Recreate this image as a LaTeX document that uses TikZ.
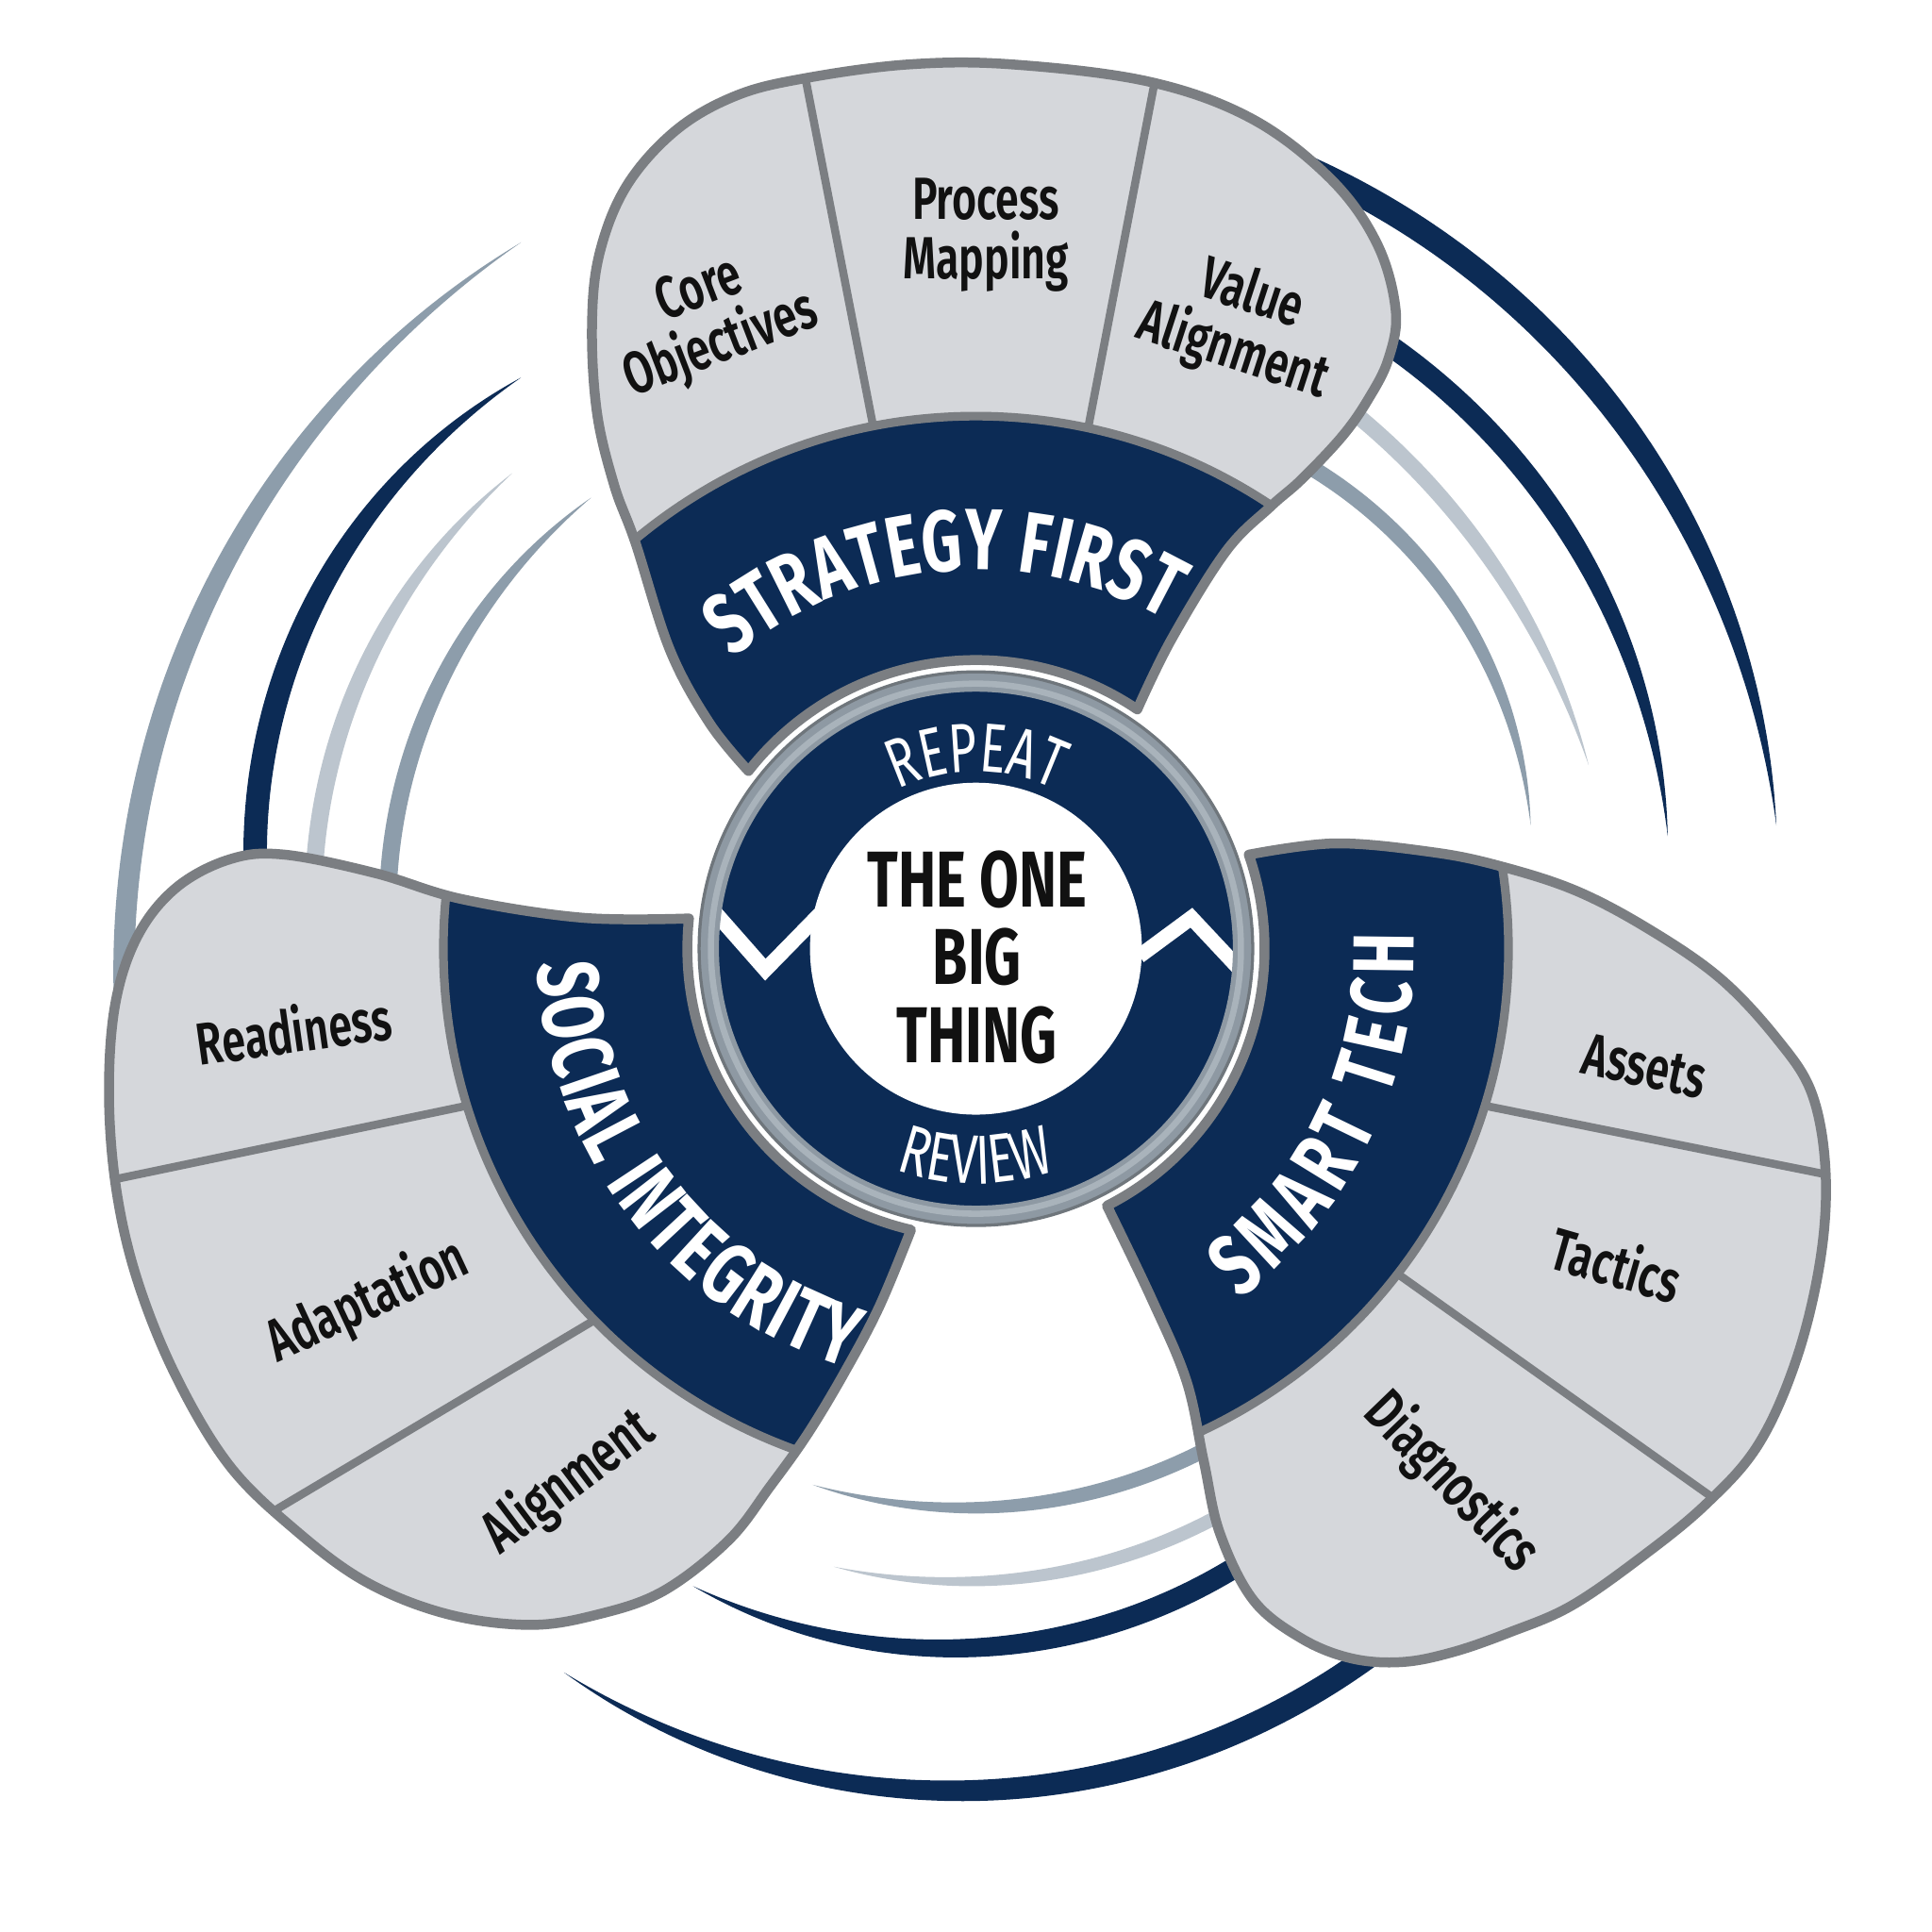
\documentclass[tikz,border=0pt]{standalone}
\usepackage{fontspec}
\usetikzlibrary{decorations.text}
\newfontfamily\cond{Fira Sans}[FakeStretch=0.72]
\IfFontExistsTF{Fira Sans SemiBold}{\newfontfamily\condmed{Fira Sans SemiBold}[FakeStretch=0.71]}{\IfFontExistsTF{Fira Sans Medium}{\newfontfamily\condmed{Fira Sans Medium}[FakeStretch=0.72]}{\newfontfamily\condmed{Fira Sans}[FakeStretch=0.72]}}
\newfontfamily\condring{Fira Sans}[FakeStretch=0.70]
\definecolor{navy}{HTML}{0C2B55}
\definecolor{cellgray}{HTML}{D5D7DB}
\definecolor{edgegray}{HTML}{7B7E82}
\definecolor{swmid}{HTML}{8D9DAB}
\definecolor{swlight}{HTML}{BCC5CE}
\definecolor{ringgray}{HTML}{8E99A3}
\definecolor{ringlight}{HTML}{A9B3BB}
\definecolor{ringdark}{HTML}{6F767C}
\definecolor{textblack}{HTML}{111111}
\newcommand\bandfont{\cond\bfseries\fontsize{70}{76}\selectfont}
\newcommand\ringfont{\condring\fontsize{56}{60}\selectfont}
% swoosh: colour, cx, cy, r, tip angle, hidden end angle, max width
\newcommand\swoosh[7]{%
  \begin{scope}[declare function={sp(\u)=sin(90*(\u-(#5))/((#6)-(#5)));}]
  \fill[#1] plot[domain=#5:#6, samples=100, variable=\t]
      ({#2+(#4+0.5*#7*sp(\t)*(2-sp(\t)))*cos(\t)}, {#3-(#4+0.5*#7*sp(\t)*(2-sp(\t)))*sin(\t)})
    -- plot[domain=#6:#5, samples=100, variable=\t]
      ({#2+(#4-0.5*#7*sp(\t)*(2-sp(\t)))*cos(\t)}, {#3-(#4-0.5*#7*sp(\t)*(2-sp(\t)))*sin(\t)})
    -- cycle;
  \end{scope}}
\newcommand\lobeT{plot[smooth, tension=0.6] coordinates {(604.4,622.6) (573,584) (541,525) (513,438) (496,392) (482,333) (478,263) (484,205) (506,150) (546,105) (595,77) (651,63) (734,52) (817,52) (928,66) (1011,96) (1075,145) (1112,197) (1127,251) (1121,290) (1105,322) (1084,352) (1051,387) (1026,409) (990,445) (946,516) (918.3,572.8)} arc[start angle=-56, end angle=-142, radius=233] -- cycle}
\newcommand\lobeS{plot[smooth, tension=0.6] coordinates {(556.3,741.6) (470,741) (373,726) (303,705) (229,690) (185,694) (142,717) (111,756) (93,811) (88,884) (94,961) (111,1034) (142,1111) (185,1183) (238,1235) (295,1277) (360,1303) (427,1312) (481,1304) (535,1285) (588,1244) (622,1200) (652,1158) (682,1108) (710,1055) (735.6,993.0)} arc[start angle=-257, end angle=-174, radius=233] -- cycle}
\newcommand\lobeM{plot[smooth, tension=0.6] coordinates {(1008.3,690.1) (1078,681) (1156,688) (1210,699) (1272,719) (1331,750) (1389,790) (1435,839) (1463,883) (1474,945) (1470,1016) (1451,1096) (1420,1166) (1377,1215) (1323,1259) (1268,1297) (1219,1318) (1173,1334) (1132,1342) (1091,1339) (1051,1323) (1012,1292) (985,1238) (972,1180) (958,1115) (930,1049) (893.8,973.6)} arc[start angle=63, end angle=-19, radius=233] -- cycle}
\tikzset{
  outline/.style={draw=edgegray, line width=8pt, line join=round},
  divider/.style={draw=edgegray, line width=6.5pt},
  bandedge/.style={draw=edgegray, line width=7pt},
  lbl/.style={font=\condmed\fontsize{48}{48}\selectfont, text=textblack, align=center, inner sep=0pt},
  bandtext/.style={decorate, decoration={text along path, text align={fit to path}, text color=white, text={|\bandfont|#1}}},
  ringtext/.style={decorate, decoration={text along path, text align=center, text color=white, text={|\ringfont|#1}}}
}
\begin{document}
\begin{tikzpicture}[x=1pt, y=-1pt]
\useasboundingbox (0,0) rectangle (1560,1560);
\fill[white] (0,0) rectangle (1560,1560);
\coordinate (C) at (788,766);

% swooshes (behind the lobes)
\swoosh{navy}{791}{725}{646}{5.2}{70}{20}
\swoosh{navy}{818}{713}{530}{4.1}{62}{17}
\swoosh{swlight}{725}{784}{582}{16.6}{57}{13}
\swoosh{swmid}{867}{694}{370}{4.3}{66}{13}
\swoosh{swmid}{800}{784}{700}{122.8}{188}{17}
\swoosh{navy}{657}{689}{451}{121.6}{190}{19}
\swoosh{swlight}{708}{729}{455}{130.3}{184}{14}
\swoosh{swmid}{733}{735}{420}{127.5}{185}{14}
\swoosh{swmid}{780}{796}{421.5}{252.9}{305}{12}
\swoosh{swlight}{775}{838}{439}{256.6}{305}{11}
\swoosh{navy}{765}{886}{445}{242.5}{308}{17}
\swoosh{navy}{771}{877}{569}{236.3}{312}{19}

% top lobe: Strategy First
\fill[cellgray] \lobeT;
\begin{scope}
  \clip \lobeT;
  \draw[divider] (647,46) -- (712,380);
  \draw[divider] (936,47) -- (872,380);
  \fill[navy] (C) circle[radius=430];
  \draw[bandedge] (C) circle[radius=430];
\end{scope}
\draw[outline] \lobeT;

% left lobe: Social Integrity
\fill[cellgray] \lobeS;
\begin{scope}
  \clip \lobeS;
  \draw[divider] (65,958) -- (400,888);
  \draw[divider] (201,1232) -- (500,1054);
  \fill[navy] (C) circle[radius=430];
  \draw[bandedge] (C) circle[radius=430];
\end{scope}
\draw[outline] \lobeS;

% right lobe: Smart Tech
\fill[cellgray] \lobeM;
\begin{scope}
  \clip \lobeM;
  \draw[divider] (1498,953) -- (1180,889);
  \draw[divider] (1398,1220) -- (1115,1019);
  \fill[navy] (C) circle[radius=430];
  \draw[bandedge] (C) circle[radius=430];
\end{scope}
\draw[outline] \lobeM;

% cell labels
\node[lbl, rotate=21] (coreobj) at (574,258) {Core\\Objectives};
\node[lbl] (procmap) at (796,190) {Process\\Mapping};
\node[lbl, rotate=-18] (valal) at (1003,262) {Value\\Alignment};
\node[lbl, rotate=8] (ready) at (237,831) {Readiness};
\node[lbl, rotate=25] (adapt) at (297,1051) {Adaptation};
\node[lbl, rotate=37] (alignS) at (459,1197) {Alignment};
\node[lbl, rotate=-12] (assets) at (1328,861) {Assets};
\node[lbl, rotate=-16] (tactics) at (1305,1020) {Tactics};
\node[lbl, rotate=-46] (diag) at (1172,1197) {Diagnostics};

% band titles
\path[bandtext={STRATEGY FIRST}] ([shift={(-130:306)}]C) arc[start angle=-130, end angle=-60, radius=306];
\path[bandtext={SOCIAL INTEGRITY}] ([shift={(-182:354)}]C) arc[start angle=-182, end angle=-253, radius=354];
\path[bandtext={SMART TECH}] ([shift={(53:354)}]C) arc[start angle=53, end angle=-2, radius=354];

% centre hub
\fill[navy] (C) circle[radius=222];
\draw[white, line width=12pt, line join=miter] (574,733) -- (618,783) -- (662,738);
\draw[white, line width=12pt, line join=miter] (920,772) -- (962,741) -- (1006,788);
\fill[white] (C) circle[radius=134];
\draw[ringgray, line width=16pt] (C) circle[radius=215.5];
\draw[ringlight, line width=5pt] (C) circle[radius=214];
\draw[ringdark, line width=2.5pt] (C) circle[radius=223.5];
\node[font=\cond\bfseries\fontsize{64}{63}\selectfont, text=textblack, align=center, inner sep=0pt] (hub) at (789,773) {THE ONE\\BIG\\THING};
\path[ringtext={REPEAT}] ([shift={(-122:143)}]C) arc[start angle=-122, end angle=-58, radius=143];
\path[ringtext={REVIEW}] ([shift={(-240:190)}]C) arc[start angle=-240, end angle=-300, radius=190];
\end{tikzpicture}
\end{document}
